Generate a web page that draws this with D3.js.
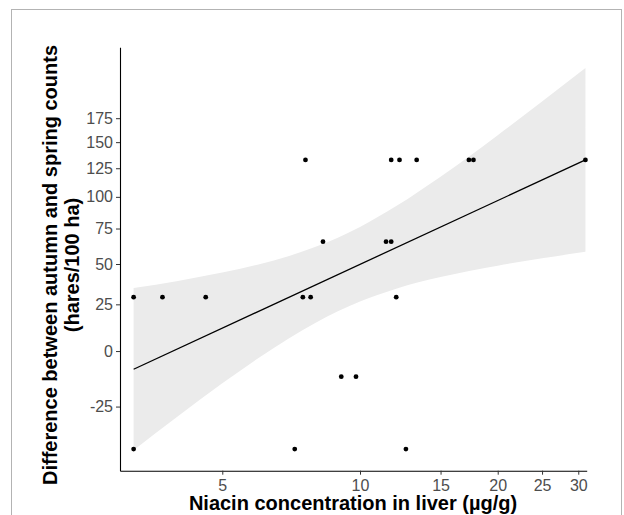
<!DOCTYPE html>
<html>
<head>
<meta charset="utf-8">
<script src="https://cdn.jsdelivr.net/npm/d3@7"></script>
<style>
  body { margin: 0; background: #fff; }
  svg { display: block; font-family: "Liberation Sans", Arial, sans-serif; }
  .tick text { fill: #4d4d4d; font-size: 16px; }
  .tick line { stroke: #333; }
  .domain { stroke: #000; stroke-width: 1.1px; }
  .axis-title { font-weight: bold; font-size: 20px; fill: #000; }
</style>
</head>
<body>
<div id="chart"></div>
<script>
// observations: niacin in liver (µg/g) vs change in hare counts
var niacin = [3.2, 3.7, 4.6, 7.5, 7.8, 12.0,
              7.6, 11.7, 12.2, 13.3, 17.3, 17.7, 31.1,
              8.3, 11.4, 11.7,
              9.1, 9.8,
              3.2, 7.2, 12.6];
var hareDiff = [29.2, 29.2, 29.2, 29.2, 29.2, 29.2,
                132.7, 132.7, 132.7, 132.7, 132.7, 132.7, 132.7,
                65.4, 65.4, 65.4,
                -12.1, -12.1,
                -41.2, -41.2, -41.2];

// fitted line + confidence band
var fitX = [3.2, 31.1];
var fitY = [-8.7, 132.7];
var bandX = [3.2, 4, 5, 6, 7, 8, 10, 12, 15, 20, 25, 31.1];
var bandLow = [-41.6, -28.9, -15.1, -3.4, 6.5, 14.7, 26.6, 34.3, 41.5, 48.9, 53.8, 58.3];
var bandHigh = [34.7, 39.1, 44.4, 49.7, 55.4, 61.7, 76.2, 92.4, 117.3, 157.1, 193.6, 234.4];

var xTicks = [5, 10, 15, 20, 25, 30];
var yTicks = [-25, 0, 25, 50, 75, 100, 125, 150, 175];

var svgWidth = 624;
var svgHeight = 515;
var margin = {top: 47.3, bottom: 44.3, left: 120, right: 37.3};
var chartWidth = svgWidth - margin.left - margin.right;
var chartHeight = svgHeight - margin.top - margin.bottom;

// y is shown on a log(y + offset) scale
var yOffset = 146;

var svg = d3.select("#chart").append("svg")
    .attr("width", svgWidth)
    .attr("height", svgHeight);

// outer frame
svg.append("rect")
    .attr("x", 11.5).attr("y", 9.5)
    .attr("width", 610).attr("height", 530)
    .attr("fill", "none")
    .attr("stroke", "#b3b3b3")
    .attr("stroke-width", 1);

var chartGroup = svg.append("g")
    .attr("transform", `translate(${margin.left},${margin.top})`);

var xScale = d3.scaleLog()
    .domain([2.988, 31.3])
    .range([0, chartWidth]);

var yLog = d3.scaleLog()
    .domain([-48.6 + yOffset, 262 + yOffset])
    .range([chartHeight, 0]);
var yScale = function(v) { return yLog(v + yOffset); };

// confidence band
var bandData = bandX.map(function(x, i) { return {x: x, lo: bandLow[i], hi: bandHigh[i]}; });
var area = d3.area()
    .x(d => xScale(d.x))
    .y0(d => yScale(d.lo))
    .y1(d => yScale(d.hi))
    .curve(d3.curveMonotoneX);
chartGroup.append("path")
    .datum(bandData)
    .attr("d", area)
    .attr("fill", "#ebebeb");

// fitted line
var fitData = fitX.map(function(x, i) { return {x: x, y: fitY[i]}; });
chartGroup.append("path")
    .datum(fitData)
    .attr("d", d3.line().x(d => xScale(d.x)).y(d => yScale(d.y)))
    .attr("fill", "none")
    .attr("stroke", "#000")
    .attr("stroke-width", 1.3);

// points
chartGroup.selectAll("circle")
    .data(niacin.map(function(x, i) { return {x: x, y: hareDiff[i]}; }))
    .enter()
    .append("circle")
    .attr("cx", d => xScale(d.x))
    .attr("cy", d => yScale(d.y))
    .attr("r", 2.4)
    .attr("fill", "#000");

// axes
var bottomAxis = d3.axisBottom(xScale)
    .tickValues(xTicks)
    .tickFormat(d3.format("d"))
    .tickSize(4)
    .tickSizeOuter(0)
    .tickPadding(4.5);
var leftAxis = d3.axisLeft(yLog)
    .tickValues(yTicks.map(t => t + yOffset))
    .tickFormat(d => d - yOffset)
    .tickSize(4)
    .tickSizeOuter(0)
    .tickPadding(3);

chartGroup.append("g")
    .attr("transform", `translate(0,${chartHeight})`)
    .call(bottomAxis)
    .call(g => g.selectAll("text").attr("font-family", null).attr("font-size", null));

chartGroup.append("g")
    .call(leftAxis)
    .call(g => g.selectAll("text").attr("font-family", null).attr("font-size", null));

// axis titles
svg.append("text")
    .attr("class", "axis-title")
    .attr("x", 353)
    .attr("y", 510)
    .attr("text-anchor", "middle")
    .text("Niacin concentration in liver (µg/g)");

var yTitle = svg.append("text")
    .attr("class", "axis-title")
    .attr("transform", "translate(0,265) rotate(-90)")
    .attr("text-anchor", "middle");
yTitle.append("tspan").attr("x", 0).attr("y", 57)
    .text("Difference between autumn and spring counts");
yTitle.append("tspan").attr("x", 0).attr("y", 78.5)
    .text("(hares/100 ha)");
</script>
</body>
</html>
